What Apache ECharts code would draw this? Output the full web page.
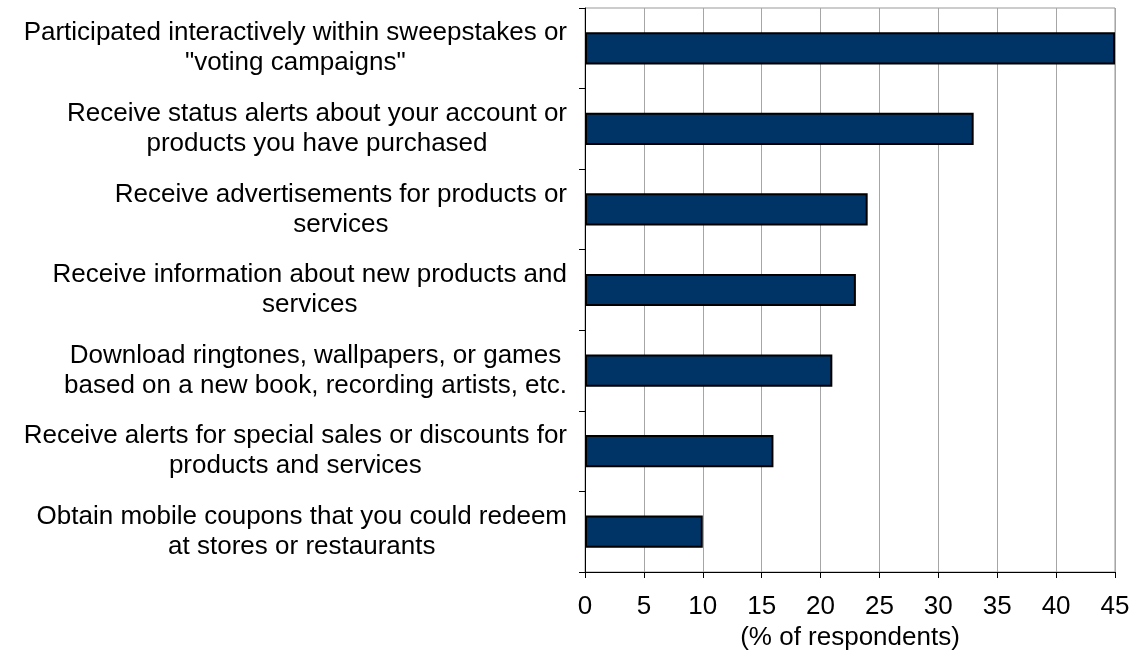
<!DOCTYPE html>
<html>
<head>
<meta charset="utf-8">
<script src="https://cdn.jsdelivr.net/npm/echarts@6/dist/echarts.min.js"></script>
<style>
html,body{margin:0;padding:0;background:#fff}
#main{width:1137px;height:658px}
</style>
</head>
<body>
<div id="main"></div>
<script>
var categories = [
    'Participated interactively within sweepstakes or\n"voting campaigns"',
    'Receive status alerts about your account or\nproducts you have purchased',
    'Receive advertisements for products or\nservices',
    'Receive information about new products and\nservices',
    'Download ringtones, wallpapers, or games\nbased on a new book, recording artists, etc.',
    'Receive alerts for special sales or discounts for\nproducts and services',
    'Obtain mobile coupons that you could redeem\nat stores or restaurants'
]
var values = [45, 33, 24, 23, 21, 16, 10]
var xTicks = [0, 45, 5] // min, max, step

var myChart = echarts.init(document.getElementById('main'));

option = {
    animation: false,
    textStyle: { fontFamily: 'Liberation Sans, Arial, sans-serif' },
    grid: {
        left: 585,
        right: 22,
        top: 8,
        bottom: 86,
        show: true,
        borderColor: '#999',
        borderWidth: 1
    },
    xAxis: {
        type: 'value',
        min: xTicks[0],
        max: xTicks[1],
        interval: xTicks[2],
        name: '(% of respondents)',
        nameLocation: 'middle',
        nameGap: 46,
        nameTextStyle: { color: '#000', fontSize: 26 },
        axisLine: { show: true, lineStyle: { color: '#000', width: 1 } },
        axisTick: { show: true, length: 6, lineStyle: { color: '#000' } },
        axisLabel: { color: '#000', fontSize: 26, margin: 22 },
        splitLine: { show: true, lineStyle: { color: '#a6a6a6', width: 1 } }
    },
    yAxis: {
        type: 'category',
        inverse: true,
        data: categories,
        axisLine: { show: true, lineStyle: { color: '#000', width: 1 } },
        axisTick: { show: true, length: 6, lineStyle: { color: '#000' } },
        axisLabel: {
            color: '#000',
            fontSize: 26,
            margin: 18,
            formatter: function (v) {
                return v.split('\n').map(function (s) { return '{c|' + s + '}' }).join('\n')
            },
            rich: {
                c: { align: 'center', fontSize: 26, lineHeight: 30, color: '#000' }
            }
        },
        splitLine: { show: false }
    },
    series: [{
        type: 'bar',
        data: values,
        barWidth: '40%',
        itemStyle: { color: '#003366', borderColor: '#000', borderWidth: 2 }
    }]
};
myChart.setOption(option);
</script>
</body>
</html>
